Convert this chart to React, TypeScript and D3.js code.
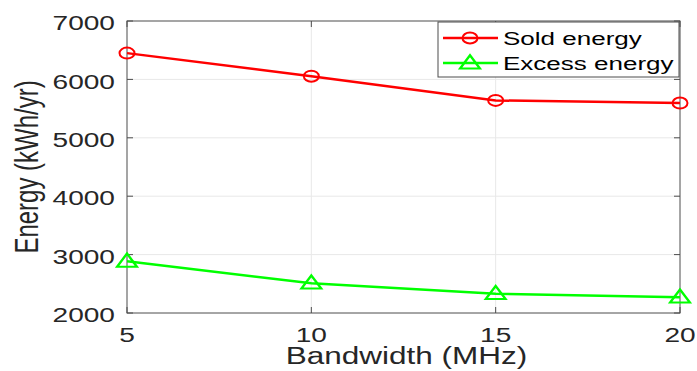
import * as d3 from 'd3';

const bandwidths = [5, 10, 15, 20];
const soldEnergy = [6450, 6055, 5640, 5595];
const excessEnergy = [2885, 2510, 2330, 2270];
const yTicks = [2000, 3000, 4000, 5000, 6000, 7000];
const xTicks = [5, 10, 15, 20];

const W = 697;
const H = 371;
const m = { left: 127, right: 17, top: 21, bottom: 58 };
const FONT = 'Liberation Sans, Arial, Helvetica, sans-serif';
// the source picture is stretched sideways, so text is too
const SX = 1.37;

export default function App() {
  const x = d3.scaleLinear().domain([5, 20]).range([m.left, W - m.right]);
  const y = d3.scaleLinear().domain([2000, 7000]).range([H - m.bottom, m.top]);
  const line = d3.line<number>().x((_, i) => x(bandwidths[i])).y(d => y(d));
  const tri = d3.symbol().type(d3.symbolTriangle).size(100)();
  const axisColor = '#4d4d4d';

  const series = [
    { name: 'Sold energy', values: soldEnergy, color: '#ff0000', marker: 'circle' },
    { name: 'Excess energy', values: excessEnergy, color: '#00ff00', marker: 'triangle' },
  ];

  const marker = (kind: string, cx: number, cy: number, color: string, key: string) =>
    kind === 'circle' ? (
      <ellipse key={key} cx={cx} cy={cy} rx={7.5} ry={5.5} fill="none" stroke={color} strokeWidth={2} />
    ) : (
      <path key={key} d={tri!} transform={`translate(${cx},${cy + 1}) scale(1.3,1)`} fill="none" stroke={color} strokeWidth={2} />
    );

  const txt = (tx: number, ty: number, s: string | number, size: number, anchor: string, fill = '#262626', dy = '0') => (
    <g transform={`translate(${tx},${ty}) scale(${SX},1)`}>
      <text dy={dy} textAnchor={anchor} fontFamily={FONT} fontSize={size} fill={fill}>{s}</text>
    </g>
  );

  const lx = 438, ly = 22, lw = 241, lh = 55;

  return (
    <svg width={W} height={H} style={{ position: 'absolute', left: 0, top: 0, background: '#fff' }}>
      {/* grid */}
      {yTicks.slice(1, -1).map(t => (
        <line key={`gy${t}`} x1={x(5)} x2={x(20)} y1={y(t)} y2={y(t)} stroke="#e8e8e8" strokeWidth={1} />
      ))}
      {xTicks.slice(1, -1).map(t => (
        <line key={`gx${t}`} x1={x(t)} x2={x(t)} y1={y(2000)} y2={y(7000)} stroke="#e8e8e8" strokeWidth={1} />
      ))}
      {/* box */}
      <rect x={x(5)} y={y(7000)} width={x(20) - x(5)} height={y(2000) - y(7000)} fill="none" stroke={axisColor} strokeWidth={1} />
      {/* ticks */}
      {yTicks.map(t => (
        <g key={`ty${t}`}>
          <line x1={x(5)} x2={x(5) + 6} y1={y(t)} y2={y(t)} stroke={axisColor} />
          <line x1={x(20)} x2={x(20) - 6} y1={y(t)} y2={y(t)} stroke={axisColor} />
          {txt(x(5) - 12, y(t) + 2, t, 20.5, 'end', '#262626', '0.35em')}
        </g>
      ))}
      {xTicks.map(t => (
        <g key={`tx${t}`}>
          <line x1={x(t)} x2={x(t)} y1={y(2000)} y2={y(2000) - 6} stroke={axisColor} />
          <line x1={x(t)} x2={x(t)} y1={y(7000)} y2={y(7000) + 6} stroke={axisColor} />
          {txt(x(t), y(2000) + 29, t, 20.5, 'middle')}
        </g>
      ))}
      {/* labels */}
      {txt((x(5) + x(20)) / 2 + 3, H - 7, 'Bandwidth (MHz)', 23, 'middle')}
      <g transform={`translate(38,${(y(2000) + y(7000)) / 2}) scale(${SX},1) rotate(-90)`}>
        <text textAnchor="middle" fontFamily={FONT} fontSize={24} fill="#262626">Energy (kWh/yr)</text>
      </g>
      {/* series */}
      {series.map(s => (
        <g key={s.name}>
          <path d={line(s.values)!} fill="none" stroke={s.color} strokeWidth={2.5} />
          {s.values.map((v, i) => marker(s.marker, x(bandwidths[i]), y(v), s.color, `${s.name}${i}`))}
        </g>
      ))}
      {/* legend */}
      <rect x={lx} y={ly} width={lw} height={lh} fill="#fff" stroke={axisColor} strokeWidth={1} />
      {series.map((s, i) => {
        const cy = ly + 16 + i * 25;
        return (
          <g key={`lg${s.name}`}>
            <line x1={lx + 5} x2={lx + 60} y1={cy} y2={cy} stroke={s.color} strokeWidth={2.5} />
            {marker(s.marker, lx + 32, cy, s.color, `lm${i}`)}
            {txt(lx + 65, cy, s.name, 19, 'start', '#000', '0.35em')}
          </g>
        );
      })}
    </svg>
  );
}
